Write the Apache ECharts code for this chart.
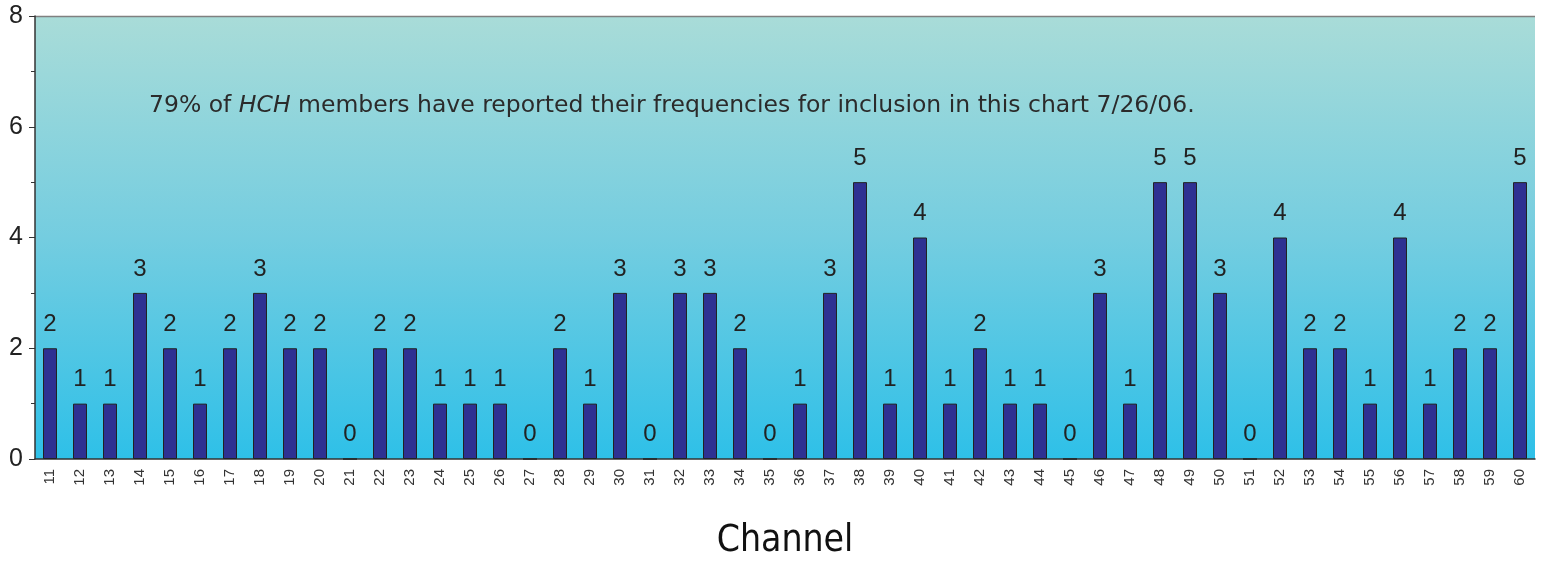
<!DOCTYPE html>
<html>
<head>
<meta charset="utf-8">
<script src="https://cdn.jsdelivr.net/npm/echarts@6/dist/echarts.min.js"></script>
<style>
html, body { margin: 0; padding: 0; background: #fff; }
#main { width: 1546px; height: 563px; }
</style>
</head>
<body>
<div id="main"></div>
<script>
var channels = ['11','12','13','14','15','16','17','18','19','20','21','22','23','24','25','26','27','28','29','30',
  '31','32','33','34','35','36','37','38','39','40','41','42','43','44','45','46','47','48','49','50',
  '51','52','53','54','55','56','57','58','59','60'];
var members = [2,1,1,3,2,1,2,3,2,2,0,2,2,1,1,1,0,2,1,3,
  0,3,3,2,0,1,3,5,1,4,1,2,1,1,0,3,1,5,5,3,
  0,4,2,2,1,4,1,2,2,5];
var yTicks = [0, 2, 4, 6, 8];

var sansFont = "'Liberation Sans', Arial, sans-serif";
var noteFont = "'DejaVu Sans', sans-serif";

var chart = echarts.init(document.getElementById('main'));
var option = {
  animation: false,
  textStyle: { fontFamily: sansFont },
  grid: {
    left: 35, right: 11, top: 16, bottom: 104,
    containLabel: false,
    outerBoundsMode: 'none',
    show: true,
    borderWidth: 0,
    backgroundColor: new echarts.graphic.LinearGradient(0, 0, 0, 1, [
      { offset: 0, color: '#a9dcd8' },
      { offset: 0.5, color: '#74cde0' },
      { offset: 1, color: '#2ec0e8' }
    ])
  },
  graphic: [{
    type: 'line',
    shape: { x1: 35, y1: 16.5, x2: 1535, y2: 16.5 },
    style: { stroke: '#808080', lineWidth: 1.5 }
  }, {
    type: 'text',
    left: 149, top: 94,
    style: {
      text: '{a|79% of }{b|HCH}{a| members have reported their frequencies for inclusion in this chart 7/26/06.}',
      rich: {
        a: { fontSize: 23.5, fill: '#2b2b2b', fontFamily: noteFont },
        b: { fontSize: 23.5, fill: '#2b2b2b', fontStyle: 'italic', fontFamily: noteFont }
      }
    }
  }],
  xAxis: {
    type: 'category',
    data: channels,
    name: 'Channel',
    nameLocation: 'middle',
    nameGap: 64,
    nameTextStyle: {
      fontSize: 37, color: '#111',
      fontFamily: "'Liberation Sans Narrow', 'DejaVu Sans Condensed', sans-serif"
    },
    axisLine: { lineStyle: { color: '#333', width: 1.5 } },
    axisTick: { show: false },
    axisLabel: { rotate: 90, fontSize: 15, color: '#333', margin: 10, interval: 0, fontFamily: sansFont }
  },
  yAxis: {
    type: 'value',
    min: yTicks[0],
    max: yTicks[yTicks.length - 1],
    interval: 2,
    axisLine: { show: true, lineStyle: { color: '#333', width: 1.5 } },
    axisTick: { show: true, length: 6, lineStyle: { color: '#333' } },
    minorTick: { show: true, splitNumber: 2, length: 4, lineStyle: { color: '#333' } },
    splitLine: { show: false },
    axisLabel: { fontSize: 25, color: '#222', margin: 12, fontFamily: sansFont }
  },
  series: [{
    type: 'bar',
    data: members,
    barWidth: 14,
    itemStyle: { color: '#2e3192', borderColor: '#222', borderWidth: 1 },
    label: {
      show: true, position: 'top', distance: 12,
      fontSize: 24, color: '#222', fontFamily: sansFont
    }
  }]
};
chart.setOption(option);
</script>
</body>
</html>
